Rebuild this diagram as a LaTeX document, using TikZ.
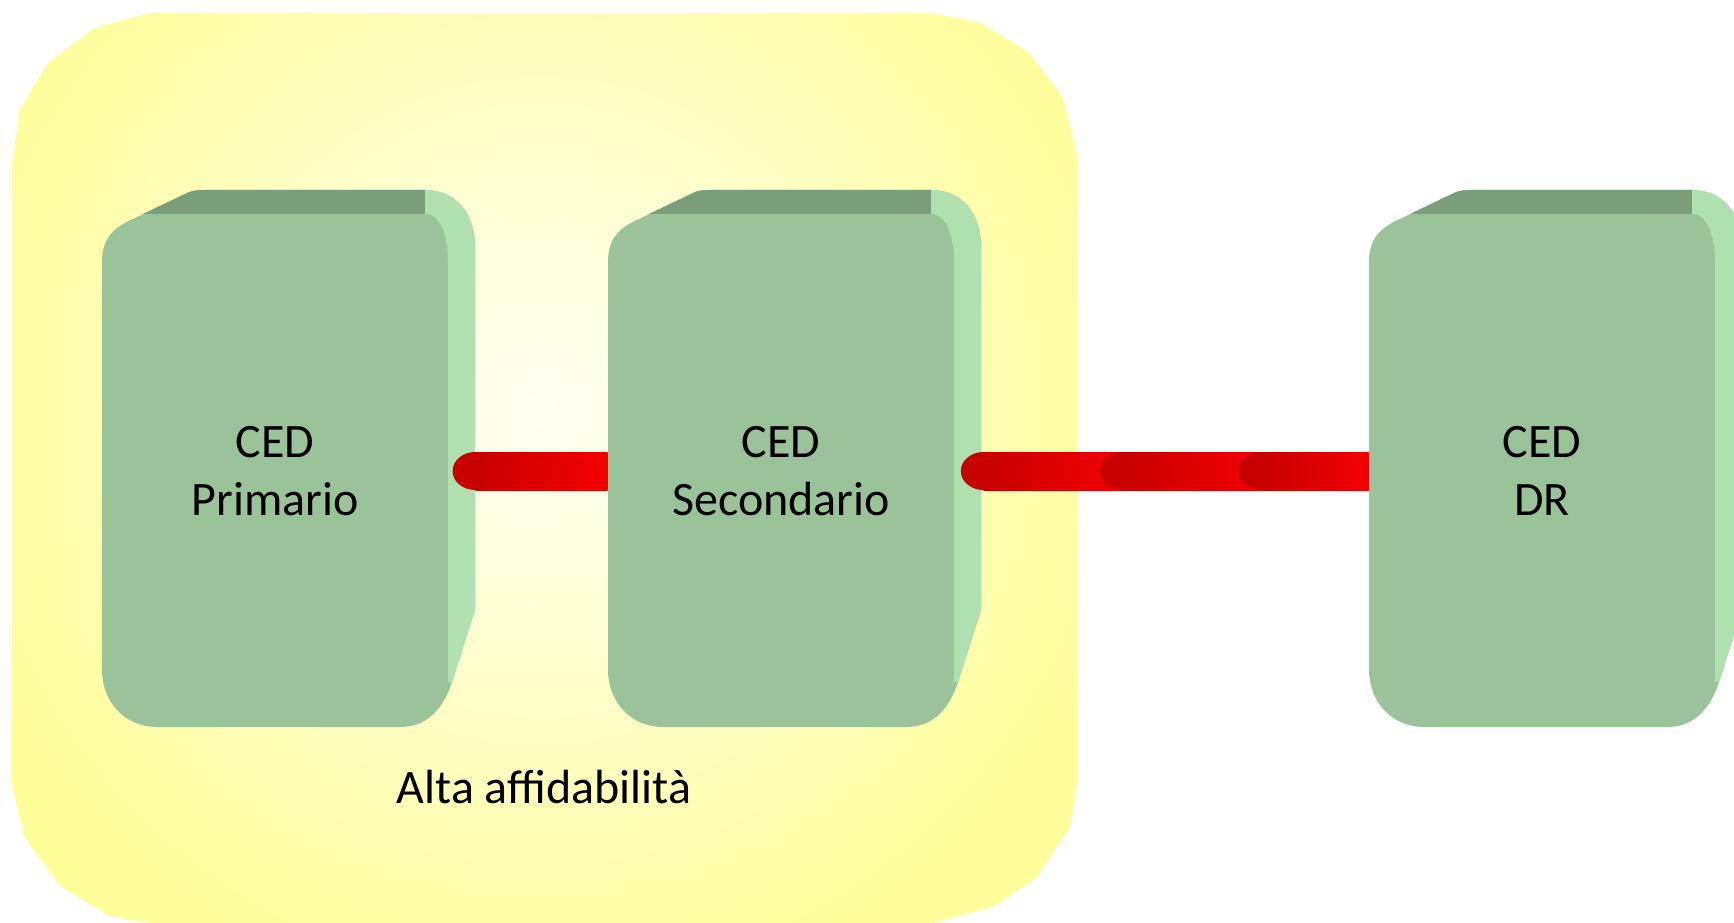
\documentclass[tikz,border=0pt]{standalone}
\usepackage{fontspec}
\setmainfont{Carlito}
\usetikzlibrary{calc}

\definecolor{hayellow}{HTML}{FFFE99}
\definecolor{haglow}{HTML}{FFFFF4}
\definecolor{cedfront}{HTML}{9AC39A}
\definecolor{cedtop}{HTML}{7A9D7A}
\definecolor{cedside}{HTML}{B0DFB0}
\definecolor{bardark}{HTML}{C80000}
\definecolor{barlight}{HTML}{F40000}

\begin{document}
\begin{tikzpicture}[x=0.75pt, y=-0.75pt,
    cedface/.style={rectangle, minimum width=259.5pt, minimum height=385.5pt, align=center,
        font=\fontsize{36pt}{44pt}\selectfont},
    redbar/.style={left color=bardark, right color=barlight}]
    \useasboundingbox (0,0) rectangle (1734,923);

    % Draw the high availability area
    \begin{scope}
        \clip (12,165) -- (20,110) -- (48,63) -- (95,28) -- (150,13) -- (932,13) -- (980,23) -- (1028,52) -- (1063,98) -- (1077,155)
            -- (1078,777) -- (1070,827) -- (1037,877) -- (993,907) -- (933,923) -- (150,923) -- (110,916) -- (60,886) -- (25,838) -- (12,786) -- cycle;
        \fill[hayellow] (0,0) rectangle (1100,930);
        \shade[inner color=haglow, outer color=hayellow] (540,410) circle (460pt);
    \end{scope}

    % Draw the data centres
    \foreach \dx/\nm/\txt in {0/prim/{CED\\Primario}, 506/sec/{CED\\Secondario}, 1267/dr/{CED\\DR}} {
        \begin{scope}[shift={(\dx,0)}]
            \fill[cedfront] (102,670) -- (102,262) .. controls (102,240) and (112,228) .. (133,219) -- (185,194)
                .. controls (190,191) and (195,190) .. (205,190) -- (425,190) .. controls (455,190) and (475,212) .. (475,247)
                -- (475,610) -- (452,682) .. controls (442,712) and (425,727) .. (400,727) -- (157,727)
                .. controls (125,727) and (102,702) .. (102,670) -- cycle;
            \fill[cedtop] (143,214) -- (185,194) .. controls (190,191) and (195,190) .. (205,190) -- (427,190) -- (427,214) -- cycle;
            \fill[cedside] (425,190) .. controls (455,190) and (475,212) .. (475,247) -- (475,610) -- (452,682) -- (448,682)
                -- (448,262) .. controls (448,235) and (440,214) .. (425,214) -- cycle;
            \node[cedface] (\nm) at (275,471) {\txt};
        \end{scope}
    }

    % Draw the links
    \fill[bardark] ($(prim.east)+(27,0)$) ellipse[x radius=17pt, y radius=14.25pt];
    \shade[redbar] ($(prim.east)+(27,-19)$) rectangle ($(sec.west)+(0,19)$);
    \foreach \a/\b in {0.015/0.41, 0.35/0.745, 0.685/1} {
        \fill[bardark] ($(sec.east)!\a!(dr.west)+(23,0)$) ellipse[x radius=17pt, y radius=14.25pt];
        \shade[redbar] ($(sec.east)!\a!(dr.west)+(23,-19)$) rectangle ($(sec.east)!\b!(dr.west)+(0,19)$);
    }

    \node[font=\fontsize{36pt}{44pt}\selectfont] (ha) at (544,787) {Alta affidabilità};
\end{tikzpicture}
\end{document}
